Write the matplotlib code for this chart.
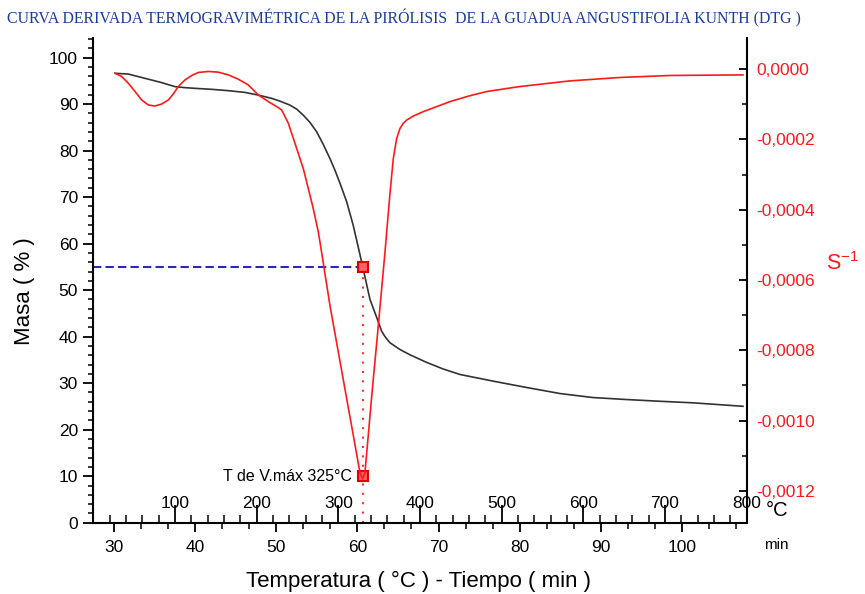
import matplotlib
matplotlib.use("Agg")
import matplotlib.pyplot as plt
from matplotlib.ticker import MultipleLocator, FuncFormatter

plt.rcParams['font.family'] = ['Liberation Sans', 'DejaVu Sans']

# TG curve: mass (%) vs time (min)
tg_time = [30.12, 31.73, 33.82, 35.88, 37.52, 38.75, 39.98, 42.04, 44.09, 46.14,
           47.78, 49.44, 50.46, 51.69, 52.52, 53.33, 54.16, 54.98, 55.80, 56.62,
           57.24, 57.85, 58.68, 59.49, 60.32, 60.72, 61.55, 62.38, 62.99, 63.40,
           64.01, 65.25, 66.48, 68.54, 70.58, 72.64, 76.75, 80.86, 84.97, 89.03,
           93.19, 97.29, 101.40, 107.52]
tg_mass = [96.61, 96.46, 95.53, 94.61, 93.74, 93.53, 93.38, 93.17, 92.88, 92.51,
           91.93, 91.22, 90.63, 89.77, 88.91, 87.61, 86.04, 84.03, 81.29, 78.27,
           75.74, 72.98, 69.00, 63.88, 57.60, 54.50, 48.01, 44.11, 41.17, 40.01,
           38.69, 37.23, 36.10, 34.46, 33.04, 31.87, 30.43, 29.07, 27.77, 26.91,
           26.48, 26.11, 25.77, 25.03]

# DTG curve: derivative (s^-1) vs time (min)
dtg_time = [30.12, 30.95, 31.76, 32.59, 33.41, 34.23, 35.05, 35.88, 36.69, 37.31,
            37.92, 38.75, 39.58, 40.39, 41.62, 42.85, 44.09, 45.32, 46.55, 47.78,
            49.02, 50.05, 50.67, 51.49, 52.31, 53.33, 53.95, 54.56, 55.18,
            55.60, 56.62, 58.47, 59.70, 60.32, 60.63, 60.93, 61.80, 62.62, 63.40,
            64.01, 64.42, 64.84, 65.25, 65.66, 66.07, 66.89, 68.12, 69.77, 71.41,
            73.80, 75.93, 80.04, 86.20, 92.36, 98.52, 107.52]
dtg_val = [-0.0000114, -0.0000209, -0.0000400, -0.0000637, -0.0000877, -0.0001020,
           -0.0001049, -0.0000991, -0.0000877, -0.0000706, -0.0000494, -0.0000306,
           -0.0000180, -0.0000094, -0.0000066, -0.0000086, -0.0000163, -0.0000286,
           -0.0000449, -0.0000734, -0.0000923, -0.0001066, -0.0001163, -0.0001543,
           -0.0002114, -0.0002829, -0.0003400, -0.0003971, -0.0004630,
           -0.0005230, -0.0006731, -0.0009109, -0.0010686, -0.0011486, -0.0011657,
           -0.0011486, -0.0009210, -0.0007190, -0.0005200, -0.0003550, -0.0002550,
           -0.0001971, -0.0001686, -0.0001540, -0.0001449, -0.0001334, -0.0001209,
           -0.0001066, -0.0000923, -0.0000760, -0.0000637, -0.0000494, -0.0000334,
           -0.0000237, -0.0000180, -0.0000163]

# peak of the DTG curve
t_peak = 60.65
mass_at_peak = 55
peak_mark = 10
peak_label = "T de V.máx 325°C"

temp_ticks = [100, 200, 300, 400, 500, 600, 700, 800]

fig = plt.figure(figsize=(8.65, 5.94), dpi=100)
ax = fig.add_axes([0.1079, 0.12, 0.7553, 0.816])
ax2 = ax.twinx()
ax3 = ax.twiny()

# mass curve
ax.plot(tg_time, tg_mass, color="#333333", lw=1.2)
ax.set_xlim(27.45, 107.98)
ax.set_ylim(0, 104.2)

# derivative curve
ax2.plot(dtg_time, dtg_val, color="#ff1a1a", lw=1.2)
ax2.set_ylim(-0.0012906, 0.0000886)

# peak markers and guide lines
ax.plot([ax.get_xlim()[0], t_peak], [mass_at_peak, mass_at_peak],
        color="#2a2ab4", lw=1.5, ls=(0, (4, 2)))
ax.plot([t_peak, t_peak], [0, mass_at_peak], color="#ff3030", lw=1.5, ls=(0, (1, 3.5)))
ax.plot([t_peak, t_peak], [mass_at_peak, peak_mark], ls="none", marker="s",
        ms=6.5, mfc="#ff6060", mec="#e00000", mew=1.5, zorder=5)
ax.annotate(peak_label, (t_peak, peak_mark), xytext=(-8, 0),
            textcoords="offset points", ha="right", va="center", fontsize=11.5)

# spines
for s in ["top", "right"]:
    ax.spines[s].set_visible(False)
for s in ["top", "left", "bottom"]:
    ax2.spines[s].set_visible(False)
for s in ax3.spines.values():
    s.set_visible(False)
ax.spines["left"].set_linewidth(1.5)
ax.spines["bottom"].set_linewidth(1.5)
ax2.spines["right"].set_linewidth(1.5)

# left axis: mass
ax.yaxis.set_major_locator(MultipleLocator(10))
ax.yaxis.set_minor_locator(MultipleLocator(2))
ax.tick_params(axis="y", which="major", direction="out", length=7, width=1.3,
               pad=4, labelsize=12.5)
ax.tick_params(axis="y", which="minor", direction="out", length=3.6, width=1.1)

# bottom axis: time
ax.xaxis.set_major_locator(MultipleLocator(10))
ax.xaxis.set_minor_locator(MultipleLocator(10 / 3))
ax.tick_params(axis="x", which="major", direction="out", length=6.5, width=1.3,
               pad=6, labelsize=12.5)
ax.tick_params(axis="x", which="minor", direction="out", length=4, width=1.1)

# temperature scale drawn inside along the bottom
ax3.set_xlim(0, 800)
ax3.xaxis.set_ticks_position("bottom")
ax3.set_xticks(temp_ticks)
ax3.xaxis.set_minor_locator(MultipleLocator(20))
ax3.tick_params(axis="x", which="major", direction="in", length=13, width=1.3,
                pad=-19.5, labelsize=12.5, bottom=True, top=False,
                labelbottom=True, labeltop=False)
ax3.tick_params(axis="x", which="minor", direction="in", length=5.5, width=1.1,
                bottom=True, top=False)

# right axis: derivative
def comma_fmt(v, pos):
    if abs(v) < 1e-9:
        return "0,0000"
    return f"{v:.4f}".replace(".", ",")

ax2.yaxis.set_major_locator(MultipleLocator(0.0002))
ax2.yaxis.set_minor_locator(MultipleLocator(0.0001))
ax2.yaxis.set_major_formatter(FuncFormatter(comma_fmt))
ax2.yaxis.get_offset_text().set_visible(False)
ax2.tick_params(axis="y", which="major", direction="in", length=6, width=1.3,
                pad=7, labelsize=12.5, labelcolor="#ff1a1a")
ax2.tick_params(axis="y", which="minor", direction="in", length=3.6, width=1.1)

# labels
ax.set_ylabel("Masa ( % )", fontsize=16)
ax.yaxis.set_label_coords(-0.089, 0.478)
ax.set_xlabel("Temperatura ( °C ) - Tiempo ( min )", fontsize=16)
ax.xaxis.set_label_coords(0.498, -0.1)
ax2.set_ylabel("S$^{\\mathregular{-1}}$", fontsize=15.5, color="#ff1a1a",
               rotation=0, ha="center", va="center")
ax2.yaxis.set_label_coords(1.146, 0.535)
ax.text(1.0465, 0.026, "°C", transform=ax.transAxes, fontsize=14.5,
        ha="center", va="center")
ax.text(1.0455, -0.046, "min", transform=ax.transAxes, fontsize=11,
        ha="center", va="center")

fig.text(0.008, 0.969,
         "CURVA DERIVADA TERMOGRAVIMÉTRICA DE LA PIRÓLISIS  DE LA GUADUA ANGUSTIFOLIA KUNTH (DTG )",
         family="Liberation Serif", fontsize=11.4, color="#1c3c9c",
         ha="left", va="center")

fig.savefig("out.png", dpi=100)
